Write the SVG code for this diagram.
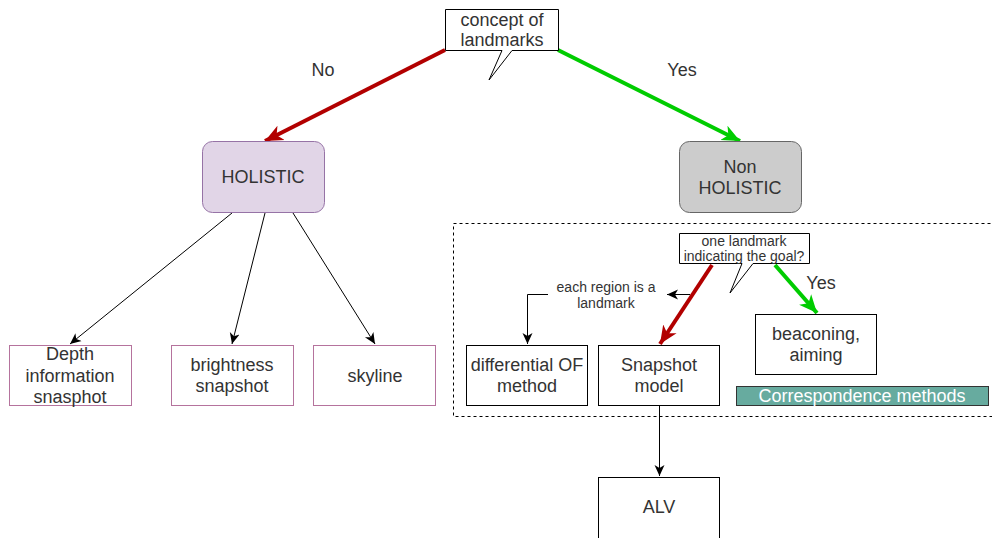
<svg xmlns="http://www.w3.org/2000/svg" width="992" height="538" viewBox="0 0 992 538">
<defs>
<style>
text{font-family:"Liberation Sans",Arial,sans-serif;fill:#333;text-anchor:middle}
.t16{font-size:18px}
.t12{font-size:14px}
.leaf{fill:#fff;stroke:#b5739d;stroke-width:1}
.box{fill:#fff;stroke:#000;stroke-width:1}
.thin{fill:none;stroke:#000;stroke-width:1}
.red{fill:none;stroke:#b20000;stroke-width:4}
.green{fill:none;stroke:#00cc00;stroke-width:4}
</style>
<marker id="ab" markerUnits="userSpaceOnUse" markerWidth="12" markerHeight="12" viewBox="0 0 12 12" refX="11" refY="6" orient="auto">
<path d="M0,1 L11,6 L0,11 L3,6 Z" fill="#000"/>
</marker>
<marker id="ar" markerUnits="userSpaceOnUse" markerWidth="20" markerHeight="20" viewBox="0 0 20 20" refX="18" refY="10" orient="auto">
<path d="M0,2 L18,10 L0,18 L5,10 Z" fill="#b20000"/>
</marker>
<marker id="ag" markerUnits="userSpaceOnUse" markerWidth="20" markerHeight="20" viewBox="0 0 20 20" refX="18" refY="10" orient="auto">
<path d="M0,2 L18,10 L0,18 L5,10 Z" fill="#00cc00"/>
</marker>
</defs>
<rect width="992" height="538" fill="#fff"/>

<rect id="container" x="453.5" y="223.5" width="545" height="193" fill="none" stroke="#000" stroke-dasharray="3,3"/>

<g id="connectors">
<line class="red" x1="445" y1="50" x2="265" y2="141" marker-end="url(#ar)"/>
<line class="green" x1="558" y1="50" x2="740" y2="141" marker-end="url(#ag)"/>
<line class="thin" x1="232" y1="213" x2="70" y2="344" marker-end="url(#ab)"/>
<line class="thin" x1="265" y1="213" x2="232" y2="344" marker-end="url(#ab)"/>
<line class="thin" x1="293" y1="213" x2="375" y2="344" marker-end="url(#ab)"/>
<line class="red" x1="712" y1="265" x2="660" y2="344" marker-end="url(#ar)"/>
<line class="green" x1="775" y1="265" x2="817" y2="313" marker-end="url(#ag)"/>
<line class="thin" x1="690" y1="294.5" x2="667" y2="294.5" marker-end="url(#ab)"/>
<polyline class="thin" points="550,294.5 527.5,294.5 527.5,344" marker-end="url(#ab)"/>
<line class="thin" x1="659.5" y1="406" x2="659.5" y2="476" marker-end="url(#ab)"/>
<text class="t16" x="323" y="76">No</text>
<text class="t16" x="682" y="76">Yes</text>
<text class="t16" x="821" y="289">Yes</text>
<rect x="548" y="279" width="117" height="34" fill="#fff"/>
<text class="t12" x="606" y="292">each region is a</text>
<text class="t12" x="606" y="308">landmark</text>
</g>

<g id="concept">
<path d="M445.5,9.5 H558.5 V50.5 H512 L489,80 L502,50.5 H445.5 Z" fill="#fff" stroke="#000"/>
<text class="t16" x="502" y="26">concept of</text>
<text class="t16" x="502" y="46">landmarks</text>
</g>

<g id="holistic">
<rect x="202.5" y="141.5" width="122" height="71" rx="10" fill="#e1d5e7" stroke="#9673a6"/>
<text class="t16" x="263" y="183">HOLISTIC</text>
</g>

<g id="nonholistic">
<rect x="679.5" y="141.5" width="122" height="71" rx="10" fill="#cccccc" stroke="#666"/>
<text class="t16" x="740" y="173">Non</text>
<text class="t16" x="740" y="194">HOLISTIC</text>
</g>

<g id="depth">
<rect class="leaf" x="9.5" y="345.5" width="122" height="60"/>
<text class="t16" x="70" y="360">Depth</text>
<text class="t16" x="70" y="382">information</text>
<text class="t16" x="70" y="403">snasphot</text>
</g>

<g id="brightness">
<rect class="leaf" x="171.5" y="345.5" width="122" height="60"/>
<text class="t16" x="232" y="371">brightness</text>
<text class="t16" x="232" y="392">snapshot</text>
</g>

<g id="skyline">
<rect class="leaf" x="313.5" y="345.5" width="122" height="60"/>
<text class="t16" x="375" y="382">skyline</text>
</g>

<g id="question">
<path d="M679.5,233.5 H809.5 V263.5 H753 L730,293 L742,263.5 H679.5 Z" fill="#fff" stroke="#000"/>
<text class="t12" x="744" y="246">one landmark</text>
<text class="t12" x="744" y="261">indicating the goal?</text>
</g>

<g id="differential">
<rect class="box" x="466.5" y="345.5" width="121" height="60"/>
<text class="t16" x="527" y="371">differential OF</text>
<text class="t16" x="527" y="392">method</text>
</g>

<g id="snapshot">
<rect class="box" x="598.5" y="345.5" width="121" height="60"/>
<text class="t16" x="659" y="371">Snapshot</text>
<text class="t16" x="659" y="392">model</text>
</g>

<g id="beaconing">
<rect class="box" x="755.5" y="314.5" width="121" height="60"/>
<text class="t16" x="816" y="340">beaconing,</text>
<text class="t16" x="816" y="361">aiming</text>
</g>

<g id="correspondence">
<rect x="736.5" y="386.5" width="252" height="19" fill="#67ab9f" stroke="#333"/>
<text class="t16" x="862" y="402" style="fill:#fff">Correspondence methods</text>
</g>

<g id="alv">
<rect class="box" x="598.5" y="477.5" width="121" height="70"/>
<text class="t16" x="659" y="513">ALV</text>
</g>
</svg>
